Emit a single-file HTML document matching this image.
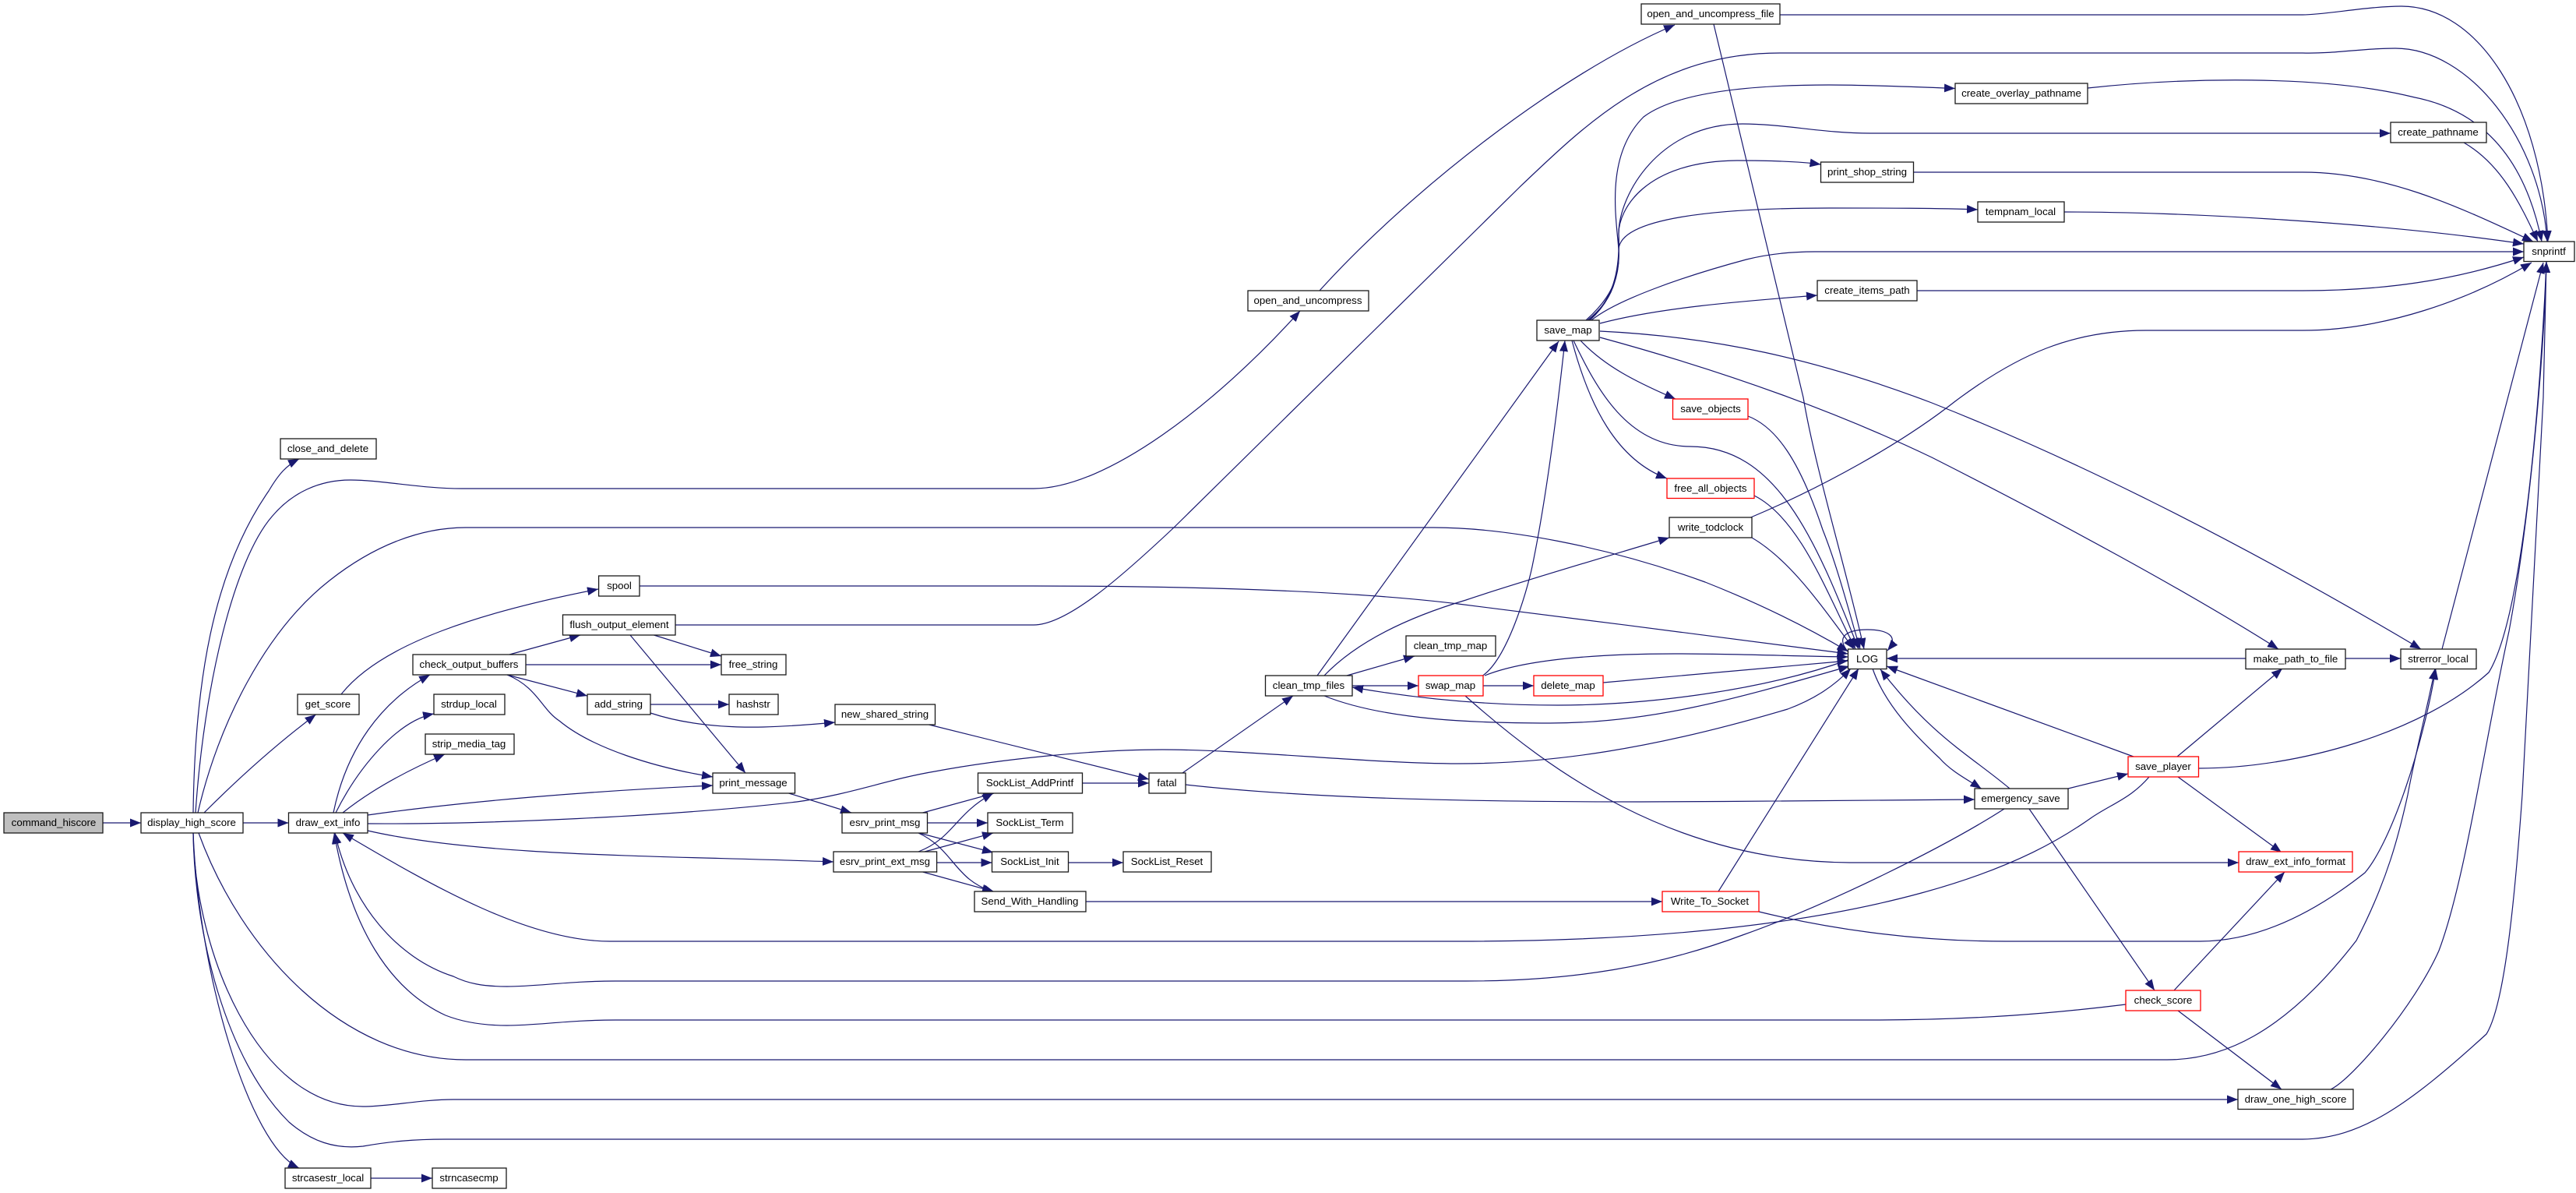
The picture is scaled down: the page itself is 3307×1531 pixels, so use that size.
<!DOCTYPE html>
<html><head><meta charset="utf-8"><title>command_hiscore call graph</title>
<style>
html,body{margin:0;padding:0;background:#fff;width:3307px;height:1531px;overflow:hidden}
svg{display:block}
.e path{fill:none;stroke:#191970;stroke-width:1.2;marker-end:url(#a)}
.n rect{fill:#fff;stroke:#1a1a1a;stroke-width:1.3}
.r rect{fill:#fff;stroke:#f00;stroke-width:1.3}
.g rect{fill:#bfbfbf;stroke:#1a1a1a;stroke-width:1.3}
text{font-family:"Liberation Sans",sans-serif;font-size:13.3px;fill:#000;text-anchor:middle}
</style></head><body>
<svg xmlns="http://www.w3.org/2000/svg" width="3307" height="1531" viewBox="0 0 3307 1531">
<defs><marker id="a" markerUnits="userSpaceOnUse" markerWidth="15" markerHeight="12" refX="14" refY="5.5" orient="auto"><path d="M0,0L14,5.5L0,11z" fill="#191970"/></marker></defs>
<rect width="3307" height="1531" fill="#fff"/>
<g class="e">
<path d="M132,1056H181"/>
<path d="M312,1056H370.5"/>
<path d="M248,1043C250,880 272,735 345,630C358,608 368,597 384,589"/>
<path d="M251,1043C262,880 300,720 349,663C375,632 410,616 450,616C490,616 540,627 593,627H1327C1420,627 1560,520 1669,399"/>
<path d="M254,1043C280,930 340,810 423,745C480,700 540,677 598,677H1840C1930,677 2060,700 2189,747C2260,775 2320,805 2372.5,836"/>
<path d="M262,1043Q335,970 405.5,917"/>
<path d="M438,891C490,825 620,785 768,756"/>
<path d="M428,1043C445,960 490,900 552,866"/>
<path d="M431,1043C460,985 510,925 557,916"/>
<path d="M440,1043C475,1015 520,990 571,968"/>
<path d="M472,1046C600,1028 760,1015 915,1008"/>
<path d="M472,1057C620,1058 860,1048 1023,1029C1090,1020 1140,1000 1200,990C1280,975 1400,962 1492,962C1600,962 1760,980 1872,980C1990,980 2120,962 2295,910C2330,897 2355,880 2376,858"/>
<path d="M472,1066C620,1100 860,1098 1070,1106"/>
<path d="M654,840L745,815"/>
<path d="M675,853H926"/>
<path d="M651,866L754,893"/>
<path d="M651,866C690,882 695,910 718,925C760,960 840,985 915,997"/>
<path d="M839.5,815L926,842"/>
<path d="M809,815L957,992"/>
<path d="M867,802H1327C1370,802 1440,740 1507,677L1951,240C2040,155 2130,68 2285,68H2956C3000,69 3030,62 3075,62C3170,62 3262,180 3270,310"/>
<path d="M835,904H936"/>
<path d="M835,915C880,930 930,934 980,933C1015,932 1040,930 1072,927"/>
<path d="M1192.6,930L1475,1000"/>
<path d="M1012.6,1018L1093,1043"/>
<path d="M1389.5,1005H1475"/>
<path d="M1184.6,1043L1276,1018"/>
<path d="M1190.5,1056H1268"/>
<path d="M1180,1069L1275,1094"/>
<path d="M1179,1069C1225,1090 1225,1130 1277,1145"/>
<path d="M1179,1093C1225,1075 1225,1045 1275,1018"/>
<path d="M1187,1093L1275,1069"/>
<path d="M1202.6,1107H1273.5"/>
<path d="M1184.6,1119L1275,1144"/>
<path d="M1371.5,1107H1442"/>
<path d="M1394,1157H2134"/>
<path d="M1518,992L1660,893"/>
<path d="M1522,1007C1640,1020 1800,1029 2105,1029C2250,1029 2400,1026 2535,1026"/>
<path d="M1691,867L2001,438"/>
<path d="M1700,867C1745,820 1815,790 1882,770C1950,747 2060,715 2143,690"/>
<path d="M1729,867L1816,842"/>
<path d="M1736,880H1821"/>
<path d="M2372.5,847C2250,890 2100,905 2000,905C1900,905 1810,895 1736,882"/>
<path d="M1700,893C1780,925 1900,928 1990,928C2130,928 2250,890 2374,855"/>
<path d="M1903.5,867C1935,845 1960,760 1967,727C1985,640 2000,520 2009,437"/>
<path d="M1906,867C1960,845 2060,839 2150,839C2230,839 2300,842 2372.5,843"/>
<path d="M1904,880H1969"/>
<path d="M2058,876L2372.5,848"/>
<path d="M1881,893C1990,990 2150,1106 2375,1107H2874"/>
<path d="M2036,411C2065,385 2080,360 2078,320C2075,280 2060,200 2110,150C2150,120 2240,109 2348,109C2400,109 2470,112 2510,113.5"/>
<path d="M2038,411C2070,385 2080,360 2078,300C2078,250 2130,159 2237,159C2290,159 2340,171 2401,171H3069"/>
<path d="M2040,411C2070,385 2080,350 2078,300C2078,270 2110,207 2230,206C2270,206 2310,207 2337.5,211"/>
<path d="M2041,411C2070,385 2080,350 2078,320C2080,280 2200,267 2348,267C2420,267 2490,267 2539,269"/>
<path d="M2043,411C2075,385 2160,355 2242,333C2270,326 2300,323 2330,323H3240"/>
<path d="M2054,415C2130,395 2230,387 2333,379"/>
<path d="M2054,433C2190,470 2340,520 2480,587C2640,668 2810,760 2925,833"/>
<path d="M2054,425C2200,432 2330,460 2480,517C2640,580 2850,680 3108,833"/>
<path d="M2029,437C2060,470 2100,490 2151,512"/>
<path d="M2018,437C2040,520 2075,590 2140,614"/>
<path d="M2020,437C2050,500 2090,573 2170,573C2280,573 2330,690 2386,833"/>
<path d="M2200,31L2315,510C2330,600 2370,730 2393,833"/>
<path d="M2285,19H2956C2985,19 3040,8 3083,8C3180,8 3262,130 3271,310"/>
<path d="M1694,373C1805,250 2000,95 2150,32"/>
<path d="M2244,534C2280,548 2310,590 2340,680C2360,730 2375,790 2388,833"/>
<path d="M2252,636C2310,665 2345,760 2382,833"/>
<path d="M2249,690C2300,720 2340,780 2380,833"/>
<path d="M2247.5,664C2340,625 2440,570 2510,515C2590,455 2660,424 2755,424H2956C3060,424 3170,385 3250,337"/>
<path d="M821,752H1327C1560,752 1750,760 1872,775C2030,795 2230,820 2372.5,839"/>
<path d="M2372,836C2355,815 2375,808 2397,808C2420,808 2440,815 2423,835"/>
<path d="M2883,845H2422"/>
<path d="M3011,845H3082"/>
<path d="M3135,833L3265,337"/>
<path d="M2739,971L2422,855"/>
<path d="M2795,971L2930,858"/>
<path d="M2822.5,986C2950,986 3110,940 3195,863C3240,790 3262,500 3269,336"/>
<path d="M2796,997L2929,1094"/>
<path d="M2759,997C2735,1025 2710,1032 2684,1050C2620,1095 2440,1208 1872,1208H783C680,1208 560,1140 440,1069"/>
<path d="M2573,1038C2500,1085 2350,1160 2237,1200C2130,1240 2020,1259 1882,1259H790C730,1259 690,1266 651,1266C620,1266 600,1262 582,1253C510,1230 450,1160 430,1069"/>
<path d="M2729,1289C2640,1300 2540,1309 2400,1309H790C730,1309 690,1316 651,1316C620,1316 595,1312 572,1303C500,1270 450,1190 429,1069"/>
<path d="M2791,1271L2933,1119"/>
<path d="M2796,1297L2929,1398"/>
<path d="M2605,1038L2766,1271"/>
<path d="M2655,1012L2732,993"/>
<path d="M2404,858C2420,905 2460,945 2490,973C2505,990 2525,1000 2543.5,1012"/>
<path d="M2580,1012C2530,970 2480,945 2414,859"/>
<path d="M2992,1398C3020,1385 3100,1290 3131,1220C3165,1130 3190,950 3221,810C3245,680 3265,480 3269,336"/>
<path d="M248,1069C250,1200 290,1360 371,1440C400,1465 430,1475 466,1471C500,1465 530,1462 572,1462H2956C3030,1461 3090,1420 3192,1327C3215,1290 3228,1160 3238,1020L3265,510L3269,336"/>
<path d="M248,1069C250,1220 330,1420 466,1420C500,1420 540,1411 582,1411H2873"/>
<path d="M248,1069C255,1250 320,1470 384,1499"/>
<path d="M476,1512H555"/>
<path d="M255,1069C310,1220 440,1360 598,1360H2782C2850,1360 2930,1330 3025,1207C3065,1130 3080,1070 3091,1020C3100,970 3118,900 3126,858"/>
<path d="M2258,1170C2340,1190 2450,1208 2575,1208H2824C2890,1208 2960,1180 3036,1120C3070,1080 3110,960 3127,858"/>
<path d="M2206,1144L2386,858"/>
<path d="M2680,113C2800,100 2980,95 3100,125C3200,145 3245,220 3263,310"/>
<path d="M3163,183C3210,210 3235,260 3258,310"/>
<path d="M2456.6,221H2956C3060,221 3150,262 3252,310"/>
<path d="M2650,272C2800,272 3050,285 3240,313"/>
<path d="M2461,373H2956C3060,373 3150,360 3240,330"/>
</g>
<g class="g"><rect x="5" y="1043" width="127" height="26"/><text x="69" y="1060">command_hiscore</text></g>
<g class="n">
<rect x="181" y="1043" width="131" height="26"/><text x="246" y="1060">display_high_score</text>
<rect x="370.5" y="1043" width="101.5" height="26"/><text x="421" y="1060">draw_ext_info</text>
<rect x="366" y="1499" width="110" height="26"/><text x="421" y="1516">strcasestr_local</text>
<rect x="555" y="1499" width="95" height="26"/><text x="602" y="1516">strncasecmp</text>
<rect x="2107" y="5" width="178" height="26"/><text x="2196" y="22">open_and_uncompress_file</text>
<rect x="1602" y="373" width="155" height="26"/><text x="1679" y="390">open_and_uncompress</text>
<rect x="1973" y="411" width="80" height="26"/><text x="2013" y="428">save_map</text>
<rect x="2337.5" y="208" width="119" height="26"/><text x="2397" y="225">print_shop_string</text>
<rect x="2333" y="360" width="128" height="26"/><text x="2397" y="377">create_items_path</text>
<rect x="2510" y="107" width="170" height="26"/><text x="2595" y="124">create_overlay_pathname</text>
<rect x="3069" y="157" width="123" height="26"/><text x="3130" y="174">create_pathname</text>
<rect x="2539" y="259" width="111" height="26"/><text x="2594" y="276">tempnam_local</text>
<rect x="3240" y="310" width="65" height="25.5"/><text x="3272" y="327">snprintf</text>
<rect x="360" y="563" width="123" height="26"/><text x="421" y="580">close_and_delete</text>
<rect x="768.6" y="739" width="52.4" height="26"/><text x="795" y="756">spool</text>
<rect x="722.5" y="789" width="144.5" height="26"/><text x="795" y="806">flush_output_element</text>
<rect x="530" y="840" width="145" height="26"/><text x="602" y="857">check_output_buffers</text>
<rect x="382" y="891" width="79" height="26"/><text x="421" y="908">get_score</text>
<rect x="557" y="891" width="91" height="26"/><text x="602" y="908">strdup_local</text>
<rect x="754" y="891" width="81" height="26"/><text x="794" y="908">add_string</text>
<rect x="546" y="942" width="114" height="26"/><text x="602" y="959">strip_media_tag</text>
<rect x="926" y="840" width="83" height="26"/><text x="967" y="857">free_string</text>
<rect x="936" y="891" width="63" height="26"/><text x="967" y="908">hashstr</text>
<rect x="1072" y="904" width="128.5" height="26"/><text x="1136" y="921">new_shared_string</text>
<rect x="915" y="992" width="105.5" height="26"/><text x="967" y="1009">print_message</text>
<rect x="1255.5" y="992" width="134" height="26"/><text x="1322" y="1009">SockList_AddPrintf</text>
<rect x="1475" y="992" width="47" height="26"/><text x="1498" y="1009">fatal</text>
<rect x="1624.5" y="867" width="111.5" height="26"/><text x="1680" y="884">clean_tmp_files</text>
<rect x="2143" y="664" width="106" height="26"/><text x="2196" y="681">write_todclock</text>
<rect x="1805" y="816" width="115" height="26"/><text x="1862" y="833">clean_tmp_map</text>
<rect x="2372.5" y="833" width="49.5" height="25.5"/><text x="2397" y="850">LOG</text>
<rect x="2883" y="833" width="128" height="25.5"/><text x="2947" y="850">make_path_to_file</text>
<rect x="3082" y="833" width="97" height="25.5"/><text x="3130" y="850">strerror_local</text>
<rect x="2535" y="1012" width="120" height="26"/><text x="2594" y="1029">emergency_save</text>
<rect x="1081" y="1043" width="109.5" height="26"/><text x="1136" y="1060">esrv_print_msg</text>
<rect x="1268" y="1043" width="109" height="26"/><text x="1322" y="1060">SockList_Term</text>
<rect x="1070" y="1093" width="132.6" height="26"/><text x="1136" y="1110">esrv_print_ext_msg</text>
<rect x="1273.5" y="1093" width="98" height="26"/><text x="1322" y="1110">SockList_Init</text>
<rect x="1442" y="1093" width="113" height="26"/><text x="1498" y="1110">SockList_Reset</text>
<rect x="1251" y="1144" width="143" height="26"/><text x="1322" y="1161">Send_With_Handling</text>
<rect x="2873" y="1398" width="148" height="25.5"/><text x="2947" y="1415">draw_one_high_score</text>
</g>
<g class="r">
<rect x="2147.5" y="512" width="96.5" height="26"/><text x="2196" y="529">save_objects</text>
<rect x="2140" y="614" width="112" height="25.5"/><text x="2196" y="631">free_all_objects</text>
<rect x="1821" y="867" width="83" height="26"/><text x="1862" y="884">swap_map</text>
<rect x="1969" y="867" width="89" height="26"/><text x="2013" y="884">delete_map</text>
<rect x="2732" y="971" width="90.5" height="26"/><text x="2777" y="988">save_player</text>
<rect x="2134" y="1144" width="124" height="26"/><text x="2195" y="1161">Write_To_Socket</text>
<rect x="2874" y="1093" width="146" height="26"/><text x="2947" y="1110">draw_ext_info_format</text>
<rect x="2729" y="1271" width="96" height="26"/><text x="2777" y="1288">check_score</text>
</g>
</svg>
</body></html>
